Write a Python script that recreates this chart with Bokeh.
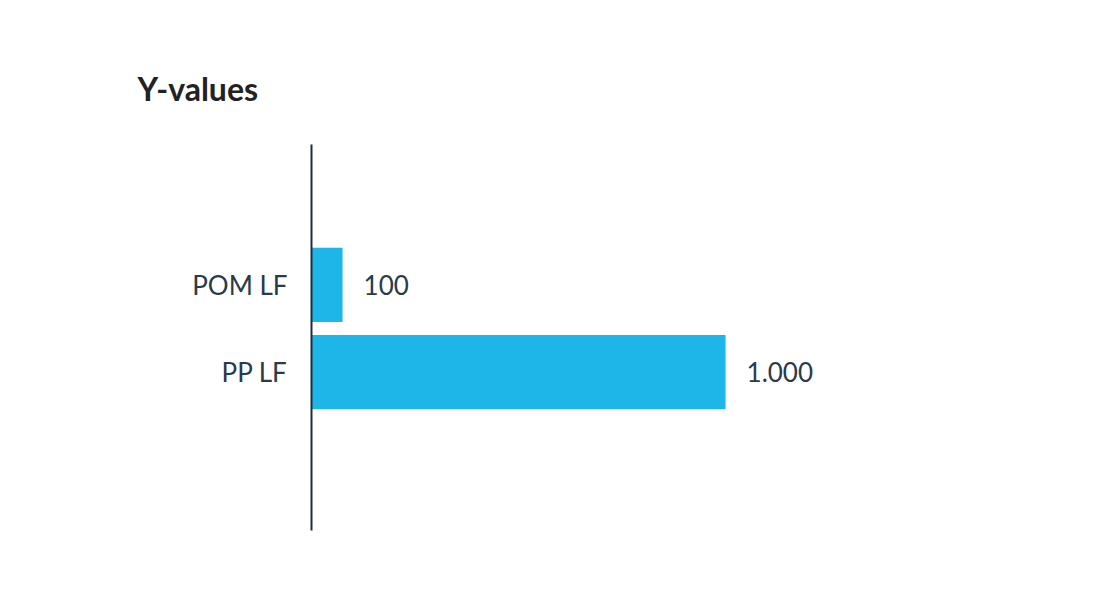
from bokeh.plotting import figure
from bokeh.models import ColumnDataSource, Title, FixedTicker, LabelSet
from bokeh.core.properties import value
from bokeh.embed import file_html
from bokeh.resources import INLINE

categories = ["PP LF", "POM LF"]
values = [1000, 100]
value_labels = ["1.000", "100"]
positions = [0, 1]

src = ColumnDataSource(dict(y=positions, v=values, lab=value_labels, cat=categories))

p = figure(width=1084, height=573, output_backend="svg", toolbar_location=None,
           x_range=(27, 1820), y_range=(-1.816, 2.609),
           min_border_left=311, min_border_top=144, min_border_bottom=43, min_border_right=10)
p.outline_line_color = None
p.grid.visible = False
p.xaxis.visible = False

p.hbar(y="y", right="v", left=0, height=0.85, source=src, color="#1EB5E8", line_color=None)

labels = LabelSet(x="v", y="y", text="lab", source=src, x_offset=21, text_baseline="middle",
                  text_font=value("Lato"), text_font_size="26px", text_color="#2B3A48")
p.add_layout(labels)

ax = p.yaxis[0]
ax.ticker = FixedTicker(ticks=positions)
ax.major_label_overrides = {pos: c for pos, c in zip(positions, categories)}
ax.major_tick_line_color = None
ax.minor_tick_line_color = None
ax.axis_line_color = "#1F2D3A"
ax.axis_line_width = 2
ax.major_label_standoff = 18
ax.major_label_text_font = "Lato"
ax.major_label_text_font_size = "26px"
ax.major_label_text_color = "#2B3A48"

t = Title(text="Y-values", align="left", offset=-174, standoff=74, text_font="Lato",
          text_font_style="bold", text_font_size="32px", text_color="#222222")
p.add_layout(t, "above")

open("out.html", "w").write(file_html(p, INLINE))
